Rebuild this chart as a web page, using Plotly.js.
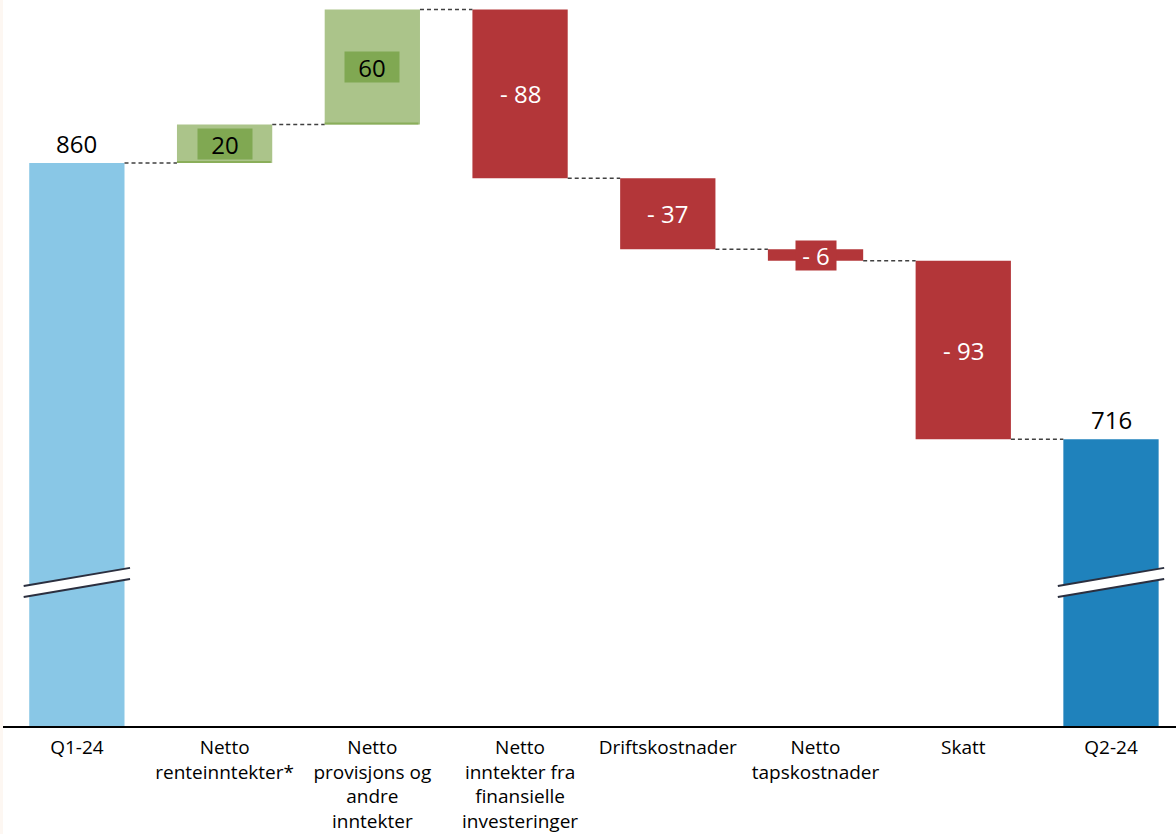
<!DOCTYPE html>
<html>
<head>
<meta charset="utf-8">
<script src="https://cdn.plot.ly/plotly-3.0.1.min.js"></script>
<style>
  html, body { margin: 0; padding: 0; background: #fdf7f2; }
  #chart { position: absolute; left: 3px; top: 0; width: 1173px; height: 834px; background: #ffffff; }
</style>
</head>
<body>
<div id="chart"></div>
<script>
// ---- data ----
const categories = ['Q1-24', 'Netto<br>renteinntekter*', 'Netto<br>provisjons og<br>andre<br>inntekter',
  'Netto<br>inntekter fra<br>finansielle<br>investeringer', 'Driftskostnader', 'Netto<br>tapskostnader', 'Skatt', 'Q2-24'];
const startValue = 860;
const changes = [20, 60, -88, -37, -6, -93];
const endValue = 716;
const changeLabels = ['20', '60', '- 88', '- 37', '- 6', '- 93'];

// ---- styles ----
const C_START = '#89c7e6', C_END = '#1f82bc', C_UP = '#abc48a', C_UP_DARK = '#80a852', C_DOWN = '#b33639';
const FONT = 'Open Sans, sans-serif';
const BAR_W = 0.645;
const Y_MIN = 566.6, Y_MAX = 944.9;

const idx = categories.map((_, i) => i);
const bases = [];
let run = startValue;
changes.forEach(c => { bases.push(run); run += c; });

const traces = [
  { type: 'bar', x: [0], y: [startValue], base: [0], width: BAR_W, marker: { color: C_START }, hoverinfo: 'skip' },
  { type: 'bar', x: idx.slice(1, 1 + changes.length), y: changes, base: bases, width: BAR_W,
    marker: { color: changes.map(c => c >= 0 ? C_UP : C_DOWN) }, hoverinfo: 'skip' },
  { type: 'bar', x: [categories.length - 1], y: [endValue], base: [0], width: BAR_W, marker: { color: C_END }, hoverinfo: 'skip' }
];

const shapes = [];
const annotations = [];
// connectors
const levels = [startValue];
changes.forEach((c, i) => levels.push(bases[i] + c));
levels.forEach((lv, i) => {
  shapes.push({ type: 'line', xref: 'x', yref: 'y', x0: i + BAR_W / 2, x1: i + 1 - BAR_W / 2, y0: lv, y1: lv,
    line: { color: '#404040', width: 1.5, dash: '4px,3px' } });
});
// darker green bottom edge on increases
changes.forEach((c, i) => {
  if (c > 0) shapes.push({ type: 'line', xref: 'x', yref: 'y', x0: i + 1 - BAR_W / 2, x1: i + 1 + BAR_W / 2 - 0.01,
    y0: bases[i] + 0.5, y1: bases[i] + 0.5, line: { color: '#8aae5a', width: 2 } });
});
// axis break marks
[0, categories.length - 1].forEach(i => {
  const xl = i - 0.36, xr = i + 0.36;
  const yTl = 639.6, yTr = 649.0, yBl = 633.8, yBr = 643.2;
  shapes.push({ type: 'path', xref: 'x', yref: 'y',
    path: `M ${xl},${yTl} L ${xr},${yTr} L ${xr},${yBr} L ${xl},${yBl} Z`,
    fillcolor: '#ffffff', line: { width: 0 } });
  shapes.push({ type: 'line', xref: 'x', yref: 'y', x0: xl, y0: yTl, x1: xr, y1: yTr, line: { color: '#2b2f3f', width: 2 } });
  shapes.push({ type: 'line', xref: 'x', yref: 'y', x0: xl, y0: yBl, x1: xr, y1: yBr, line: { color: '#2b2f3f', width: 2 } });
});
// total labels
annotations.push({ x: 0, y: startValue, xref: 'x', yref: 'y', text: String(startValue), showarrow: false,
  yanchor: 'bottom', yshift: 1, font: { family: FONT, size: 24, color: '#000' } });
annotations.push({ x: categories.length - 1, y: endValue, xref: 'x', yref: 'y', text: String(endValue), showarrow: false,
  yanchor: 'bottom', yshift: 1, font: { family: FONT, size: 24, color: '#000' } });
// change labels
changes.forEach((c, i) => {
  const a = { x: i + 1, y: bases[i] + c / 2, xref: 'x', yref: 'y', text: changeLabels[i], showarrow: false,
    font: { family: FONT, size: 24, color: c >= 0 ? '#000' : '#fff' } };
  if (c > 0) { a.bgcolor = C_UP_DARK; a.width = 52; a.height = 28; }
  if (Math.abs(c) < 15 && c < 0) { a.bgcolor = C_DOWN; a.width = 38; a.height = 27; }
  annotations.push(a);
});

const layout = {
  width: 1173, height: 834,
  margin: { l: 0, r: 0, t: 0, b: 108 },
  paper_bgcolor: '#ffffff', plot_bgcolor: '#ffffff',
  showlegend: false,
  barmode: 'overlay',
  xaxis: { type: 'linear', range: [-0.5, 7.44], tickvals: idx, ticktext: categories, showgrid: false, zeroline: false,
    showline: true, linecolor: '#000', linewidth: 2, ticks: '', ticklabelstandoff: 3,
    tickfont: { family: FONT, size: 19, color: '#000' }, fixedrange: true },
  yaxis: { range: [Y_MIN, Y_MAX], showgrid: false, zeroline: false, showticklabels: false, showline: false, fixedrange: true },
  shapes: shapes,
  annotations: annotations
};

Plotly.newPlot('chart', traces, layout, { displayModeBar: false, staticPlot: true });
</script>
</body>
</html>
